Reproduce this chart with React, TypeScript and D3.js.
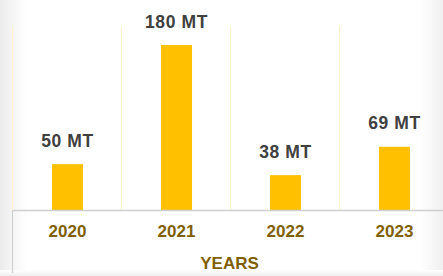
import React from "react";
import * as d3 from "d3";

const categories = ["2020", "2021", "2022", "2023"];
const values = [50, 180, 38, 69];
const unit = "MT";
const axisTitle = "YEARS";

const W = 443;
const H = 276;

export default function App() {
  const x = d3.scaleBand<string>().domain(categories).range([13, 449]).padding(0);
  const y = d3.scaleLinear().domain([0, 200]).range([210, 26.7]);
  const bw = x.bandwidth() * 0.285;
  const font = "'Liberation Sans', Arial, sans-serif";
  return (
    <div style={{ position: "fixed", left: 0, top: 0 }}>
      <svg width={W} height={H} style={{ display: "block" }}>
        <defs>
          <linearGradient id="lg" x1="0" x2="1" y1="0" y2="0">
            <stop offset="0" stopColor="#ebebeb" />
            <stop offset="1" stopColor="#ffffff" />
          </linearGradient>
          <linearGradient id="rg" x1="0" x2="1" y1="0" y2="0">
            <stop offset="0" stopColor="#ffffff" />
            <stop offset="1" stopColor="#f0f0f0" />
          </linearGradient>
          <linearGradient id="bg" x1="0" x2="0" y1="0" y2="1">
            <stop offset="0" stopColor="#ffffff" />
            <stop offset="1" stopColor="#eeeeee" />
          </linearGradient>
        </defs>
        <rect x={0} y={0} width={W} height={H} fill="#fff" />
        <rect x={0} y={0} width={26} height={H} fill="url(#lg)" />
        <rect x={420} y={0} width={23} height={H} fill="url(#rg)" />
        <rect x={0} y={270} width={W} height={6} fill="url(#bg)" />
        {categories.map((c) => (
          <line
            key={"g" + c}
            x1={x(c)! - 0.5}
            x2={x(c)! - 0.5}
            y1={y(200)}
            y2={y(0)}
            stroke="#fff2cc"
            strokeWidth={1}
          />
        ))}
        {categories.map((c, i) => (
          <rect
            key={"b" + c}
            x={x(c)! + x.bandwidth() / 2 - bw / 2}
            y={y(values[i])}
            width={bw}
            height={y(0) - y(values[i])}
            fill="#ffc000"
          />
        ))}
        <line x1={12.5} x2={W} y1={210.5} y2={210.5} stroke="#cfcfcf" strokeWidth={1.5} />
        <line x1={12.5} x2={12.5} y1={210.5} y2={273} stroke="#cfcfcf" strokeWidth={1.2} />
        {categories.map((c, i) => (
          <text
            key={"v" + c}
            x={x(c)! + x.bandwidth() / 2}
            y={y(values[i]) - 17.5}
            textAnchor="middle"
            fontFamily={font}
            fontWeight="bold"
            fontSize={17.5}
            letterSpacing={0.6}
            fill="#404040"
          >
            {values[i]} {unit}
          </text>
        ))}
        {categories.map((c) => (
          <text
            key={"t" + c}
            x={x(c)! + x.bandwidth() / 2}
            y={237}
            textAnchor="middle"
            fontFamily={font}
            fontWeight="bold"
            fontSize={17}
            fill="#7f6000"
          >
            {c}
          </text>
        ))}
        <text
          x={229.5}
          y={268.5}
          textAnchor="middle"
          fontFamily={font}
          fontWeight="bold"
          fontSize={17}
          fill="#7f6000"
        >
          {axisTitle}
        </text>
      </svg>
    </div>
  );
}
